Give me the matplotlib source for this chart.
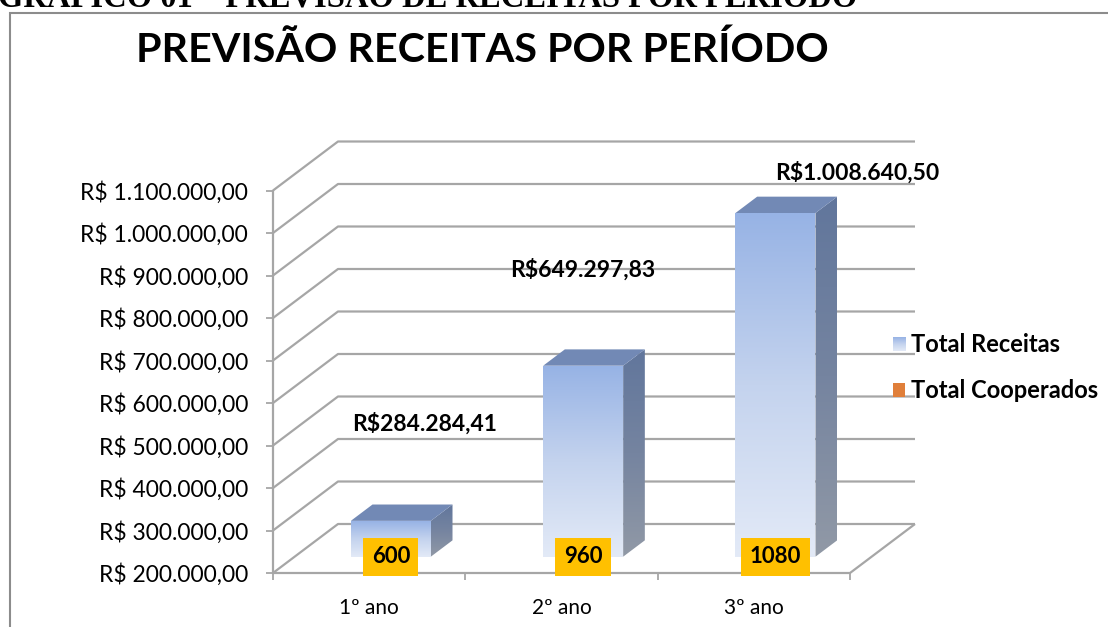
import matplotlib
matplotlib.use("Agg")
import matplotlib.pyplot as plt
import numpy as np
from matplotlib.patches import Polygon, Rectangle
from matplotlib.colors import LinearSegmentedColormap
from matplotlib.ticker import FuncFormatter, FixedLocator

# ---------------- data ----------------
categories = ["1º ano", "2º ano", "3º ano"]
total_receitas = [284284.41, 649297.83, 1008640.50]
total_cooperados = [600, 960, 1080]
receitas_labels = ["R$284.284,41", "R$649.297,83", "R$1.008.640,50"]
y_ticks = [200000, 300000, 400000, 500000, 600000, 700000, 800000, 900000, 1000000, 1100000]
title = "PREVISÃO RECEITAS POR PERÍODO"
doc_caption = "GRÁFICO 01 – PREVISÃO DE RECEITAS POR PERÍODO"
series_names = ["Total Receitas", "Total Cooperados"]

# ---------------- layout ----------------
W, H = 1108, 627
FONT = "Lato"
fig = plt.figure(figsize=(W / 100, H / 100), dpi=100)

def fx(px):
    return px / W

def fy(py):
    return 1 - py / H

ax_left, ax_right, ax_top, ax_bot = 273, 850, 190.5, 573
ax = fig.add_axes([fx(ax_left), fy(ax_bot), fx(ax_right - ax_left), (ax_bot - ax_top) / H])
ax.set_xlim(-0.5, 2.5)
ax.set_ylim(y_ticks[0], y_ticks[-1])
ax.patch.set_alpha(0)

# depth offsets (full wall depth) in data units
px_per_cat = (ax_right - ax_left) / 3.0
px_per_val = (ax_bot - ax_top) / (y_ticks[-1] - y_ticks[0])
DX = 65 / px_per_cat
DY = 49 / px_per_val

grid_col = "#A6A6A6"
gl = dict(color=grid_col, lw=1.6, clip_on=False, zorder=1, solid_capstyle="butt")
x0, x1 = -0.5, 2.5
for t in y_ticks:
    ax.plot([x0, x0 + DX, x1 + DX], [t, t + DY, t + DY], **gl)
# floor
ax.plot([x0, x1, x1 + DX], [y_ticks[0], y_ticks[0], y_ticks[0] + DY], **gl)

# spines / ticks
for s in ["top", "right", "bottom"]:
    ax.spines[s].set_visible(False)
ax.spines["left"].set_color(grid_col)
ax.spines["left"].set_linewidth(1.6)
ax.yaxis.set_major_locator(FixedLocator(y_ticks))

def brl(v, pos=None):
    s = f"{v:,.2f}"
    s = s.replace(",", "X").replace(".", ",").replace("X", ".")
    return "R$ " + s

ax.yaxis.set_major_formatter(FuncFormatter(brl))
ax.tick_params(axis="y", direction="out", length=5, width=1.3, color=grid_col,
               pad=13, labelsize=16.5, labelcolor="#000000")
for lab in ax.get_yticklabels():
    lab.set_fontfamily(FONT)
ax.xaxis.set_major_locator(FixedLocator([-0.5, 0.5, 1.5, 2.5]))
ax.set_xticklabels([])
ax.tick_params(axis="x", direction="out", length=5, width=1.3, color=grid_col)

for i, c in enumerate(categories):
    ax.annotate(c, xy=(i, y_ticks[0]), xytext=(0, -25), textcoords="offset points",
                ha="center", va="center", fontsize=15, family=FONT, color="#000000",
                annotation_clip=False)

# bars
bw = 80 / px_per_cat          # front face width
dd = 1 / 3.0                  # bar front at 1/3 depth, depth 1/3
bdx, bdy = DX * dd, DY * dd
front_cmap = LinearSegmentedColormap.from_list("f", ["#E3EAF7", "#C4D3EE", "#97B3E5"])
side_cmap = LinearSegmentedColormap.from_list("s", ["#9199A6", "#7584A0", "#61769C"])
top_col = "#7289B5"

label_off = [(34, 97), (0, 96), (82, 40)]  # pixel offsets of value labels from bar top centre

for i, v in enumerate(total_receitas):
    cx = i + bdx
    xa, xb = cx - bw / 2, cx + bw / 2
    yb, yt = y_ticks[0] + bdy, v + bdy
    grad = np.linspace(0, 1, 256).reshape(-1, 1)
    ax.imshow(grad, cmap=front_cmap, extent=(xa, xb, yb, yt), origin="lower",
              aspect="auto", zorder=3, clip_on=False, interpolation="bilinear")
    side = Polygon([(xb, yb), (xb, yt), (xb + bdx, yt + bdy), (xb + bdx, yb + bdy)],
                   closed=True, facecolor="none", edgecolor="none", zorder=3)
    ax.add_patch(side)
    im = ax.imshow(grad, cmap=side_cmap, extent=(xb, xb + bdx, yb, yt + bdy), origin="lower",
                   aspect="auto", zorder=3, interpolation="bilinear")
    im.set_clip_path(side)
    top = Polygon([(xa, yt), (xb, yt), (xb + bdx, yt + bdy), (xa + bdx, yt + bdy)],
                  closed=True, facecolor=top_col, edgecolor="none", zorder=3, clip_on=False)
    ax.add_patch(top)
    ox, oy = label_off[i]
    ax.annotate(receitas_labels[i], xy=(cx, yt), xytext=(ox * 0.72, oy * 0.72),
                textcoords="offset points", ha="center", va="center", fontsize=16.5,
                fontweight="bold", family=FONT, color="#000000", zorder=6,
                annotation_clip=False)

# cooperados labels
for i, n in enumerate(total_cooperados):
    cx = i + bdx
    ax.text(cx, y_ticks[0] + bdy, f"{n}", ha="center", va="center", fontsize=16,
            fontweight="bold", family=FONT, color="#000000", zorder=7,
            bbox=dict(boxstyle="square,pad=0.38", facecolor="#FFC000", edgecolor="none"))

# legend
leg_items = [(series_names[0], "front"), (series_names[1], "#E07F3A")]
leg_y = [344, 390]
for (name, col), py in zip(leg_items, leg_y):
    if col == "front":
        lax = fig.add_axes([fx(893), fy(py + 7), fx(12), 14 / H])
        lax.imshow(np.linspace(0, 1, 64).reshape(-1, 1), cmap=front_cmap, origin="lower",
                   aspect="auto", extent=(0, 1, 0, 1))
        lax.axis("off")
    else:
        fig.patches.append(Rectangle((fx(893), fy(py + 7)), fx(12), 14 / H, transform=fig.transFigure,
                                     facecolor=col, edgecolor="none", zorder=5))
    fig.text(fx(911), fy(py), name, ha="left", va="center", fontsize=17,
             fontweight="bold", family=FONT, color="#000000")

# title
fig.text(fx(482), fy(50), title, ha="center", va="center", fontsize=29.7,
         fontweight="bold", family=FONT, color="#000000")

# chart frame
fig.patches.append(Rectangle((fx(9.5), fy(H + 20)), fx(W), (H + 20 - 12.5) / H,
                             transform=fig.transFigure, facecolor="none",
                             edgecolor="#8C8C8C", lw=1.5, zorder=0))

# document caption cut off at the top
fig.text(fx(-2), fy(6.5), doc_caption, ha="left", va="baseline", fontsize=23.5,
         fontweight="bold", family="Liberation Serif", color="#000000")

fig.savefig("out.png", dpi=100)
